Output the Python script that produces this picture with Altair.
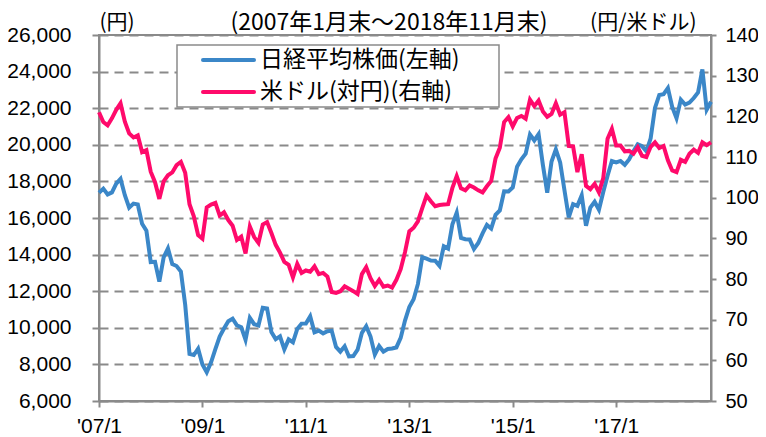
import json
import altair as alt
import pandas as pd

FONT = "Noto Sans CJK JP"
NUM_FONT = "Liberation Sans"

# month-end values, 2007/1 .. 2018/11
nikkei = [
    17383, 17604, 17288, 17400, 17876, 18138, 17249, 16569, 16786, 16738, 15681, 15308,
    13592, 13603, 12526, 13850, 14339, 13481, 13377, 13073, 11260, 8577, 8512, 8860,
    7994, 7568, 8110, 8828, 9523, 9958, 10357, 10493, 10133, 10034, 9346, 10546,
    10198, 10126, 11090, 11057, 9769, 9383, 9537, 8824, 9369, 9202, 9937, 10229,
    10237, 10624, 9755, 9850, 9694, 9816, 9833, 8955, 8700, 8988, 8435, 8455,
    8803, 9723, 10084, 9521, 8543, 9007, 8695, 8840, 8870, 8928, 9446, 10395,
    11139, 11559, 12398, 13861, 13775, 13677, 13668, 13389, 14456, 14328, 15662, 16291,
    14915, 14841, 14828, 14304, 14632, 15162, 15621, 15425, 16174, 16414, 17460, 17451,
    17674, 18798, 19207, 19520, 20563, 20236, 20585, 18890, 17388, 19083, 19747, 19034,
    17518, 16027, 16759, 16666, 17235, 15576, 16569, 16887, 16450, 17425, 18308, 19114,
    19041, 19119, 18909, 19197, 19651, 20033, 19925, 19646, 20356, 22012, 22725, 22765,
    23098, 22068, 21454, 22468, 22202, 22305, 22554, 22865, 24120, 21920, 22351,
]
usdjpy = [
    121.0, 118.6, 117.8, 119.5, 121.6, 123.2, 118.7, 115.8, 114.8, 115.3, 111.2, 111.7,
    106.4, 103.8, 99.7, 104.0, 105.5, 106.2, 108.0, 108.8, 106.1, 98.4, 95.4, 90.8,
    89.9, 97.6, 98.3, 98.7, 95.6, 96.4, 94.5, 93.1, 89.6, 90.4, 86.3, 92.9,
    90.3, 88.9, 93.4, 94.0, 91.3, 88.4, 86.5, 84.2, 83.5, 80.4, 83.7, 81.5,
    82.1, 81.8, 83.1, 81.2, 81.5, 80.6, 76.8, 76.6, 77.0, 78.2, 77.6, 77.0,
    76.3, 81.2, 82.9, 80.2, 78.3, 79.8, 78.1, 78.4, 77.9, 79.8, 82.4, 86.6,
    91.7, 92.6, 94.2, 97.4, 100.5, 99.1, 97.9, 98.2, 98.3, 98.4, 102.4, 105.3,
    102.3, 101.8, 103.0, 102.5, 101.8, 101.3, 102.8, 104.1, 109.6, 112.3, 118.6, 119.8,
    117.5, 119.6, 120.1, 119.4, 124.1, 122.5, 123.9, 121.2, 119.9, 120.6, 123.2, 120.4,
    121.0, 112.7, 112.6, 106.3, 110.7, 102.9, 102.1, 103.4, 101.3, 104.8, 114.5, 116.9,
    112.8, 112.8, 111.4, 111.5, 110.8, 112.4, 110.3, 110.0, 112.5, 113.6, 112.2, 112.7,
    109.2, 106.7, 106.3, 109.3, 108.8, 110.8, 111.8, 111.0, 113.6, 112.9, 113.6,
]
series_names = ["日経平均株価(左軸)", "米ドル(対円)(右軸)"]
series_colors = ["#3b87c8", "#ff0a6b"]
tick_months = [0, 24, 48, 72, 96, 120]
tick_labels = ["'07/1", "'09/1", "'11/1", "'13/1", "'15/1", "'17/1"]
left_ticks = list(range(6000, 26001, 2000))
right_ticks = list(range(50, 141, 10))
period_text = "(2007年1月末～2018年11月末)"
left_unit = "(円)"
right_unit = "(円/米ドル)"

n = len(nikkei)
df = pd.DataFrame({
    "t": list(range(n)) * 2,
    "value": nikkei + usdjpy,
    "series": [series_names[0]] * n + [series_names[1]] * n,
})

label_expr = "[" + ",".join(json.dumps(s) for s in tick_labels) + "][round(datum.value/24)]"

GRID = "#8a8a8a"

x_enc = alt.X(
    "t:Q",
    scale=alt.Scale(domain=[0, n - 1], nice=False, zero=False),
    axis=alt.Axis(values=tick_months, labelExpr=label_expr, title=None, grid=False,
                  tickSize=6, labelPadding=8, labelFontSize=21, labelFont=NUM_FONT,
                  labelColor="black", labelFlush=False, labelOverlap=False),
)

color_enc = alt.Color(
    "series:N",
    scale=alt.Scale(domain=series_names, range=series_colors),
    legend=None,
)

base = alt.Chart(df)

left = base.transform_filter(alt.datum.series == series_names[0]).mark_line(
    strokeWidth=4
).encode(
    x=x_enc,
    y=alt.Y("value:Q", scale=alt.Scale(domain=[6000, 26000], nice=False, zero=False),
            axis=alt.Axis(values=left_ticks, format=",.0f", grid=True, gridDash=[9, 6],
                          gridColor=GRID, gridWidth=2, tickSize=7, labelPadding=21,
                          labelFontSize=21, labelFont=NUM_FONT, labelColor="black",
                          title=left_unit, titleAngle=0, titleX=0, titleY=-13,
                          titleAlign="left", titleBaseline="middle", titleFontSize=21,
                          titleFont=FONT, titleFontWeight="normal", titleColor="black")),
    color=color_enc,
)

right = base.transform_filter(alt.datum.series == series_names[1]).mark_line(
    strokeWidth=4
).encode(
    x=x_enc,
    y=alt.Y("value:Q", scale=alt.Scale(domain=[50, 140], nice=False, zero=False),
            axis=alt.Axis(orient="right", values=right_ticks, grid=False, tickSize=5,
                          labelPadding=9, labelFontSize=20, labelFont=NUM_FONT,
                          labelColor="black", title=right_unit, titleAngle=0,
                          titleX=-15, titleY=-13, titleAlign="right",
                          titleBaseline="middle", titleFontSize=21, titleFont=FONT,
                          titleFontWeight="normal", titleColor="black")),
    color=color_enc,
)

one = pd.DataFrame({"k": [0]})

header = alt.Chart(pd.DataFrame({"txt": [period_text]})).mark_text(
    font=FONT, fontSize=23, align="center", baseline="middle", color="black"
).encode(text="txt:N", x=alt.value(290), y=alt.value(-12))

# legend (box, sample lines, labels)
legend_box = alt.Chart(one).mark_rect(
    fill="white", stroke=GRID, strokeWidth=1.5
).encode(x=alt.value(78), x2=alt.value(400), y=alt.value(10), y2=alt.value(72))

legend_layers = [legend_box]
for i, (name, col) in enumerate(zip(series_names, series_colors)):
    yy = 25 + 32 * i
    legend_layers.append(
        alt.Chart(one).mark_rule(color=col, strokeWidth=4, strokeCap="round").encode(
            x=alt.value(104), x2=alt.value(155), y=alt.value(yy))
    )
    legend_layers.append(
        alt.Chart(pd.DataFrame({"txt": [name]})).mark_text(
            font=FONT, fontSize=23, align="left", baseline="middle", color="black"
        ).encode(text="txt:N", x=alt.value(161), y=alt.value(yy))
    )

chart = alt.layer(left, right, header, *legend_layers).resolve_scale(
    y="independent"
).properties(
    width=612, height=366,
    autosize=alt.AutoSizeParams(type="none"),
    padding={"left": 91, "top": 27, "right": 47, "bottom": 36},
).configure_view(
    stroke=GRID, strokeWidth=2
).configure_axis(
    domainColor=GRID, domainWidth=2, tickColor=GRID, tickWidth=2,
)

chart.save("out.html", embed_options={"renderer": "svg", "actions": False})
